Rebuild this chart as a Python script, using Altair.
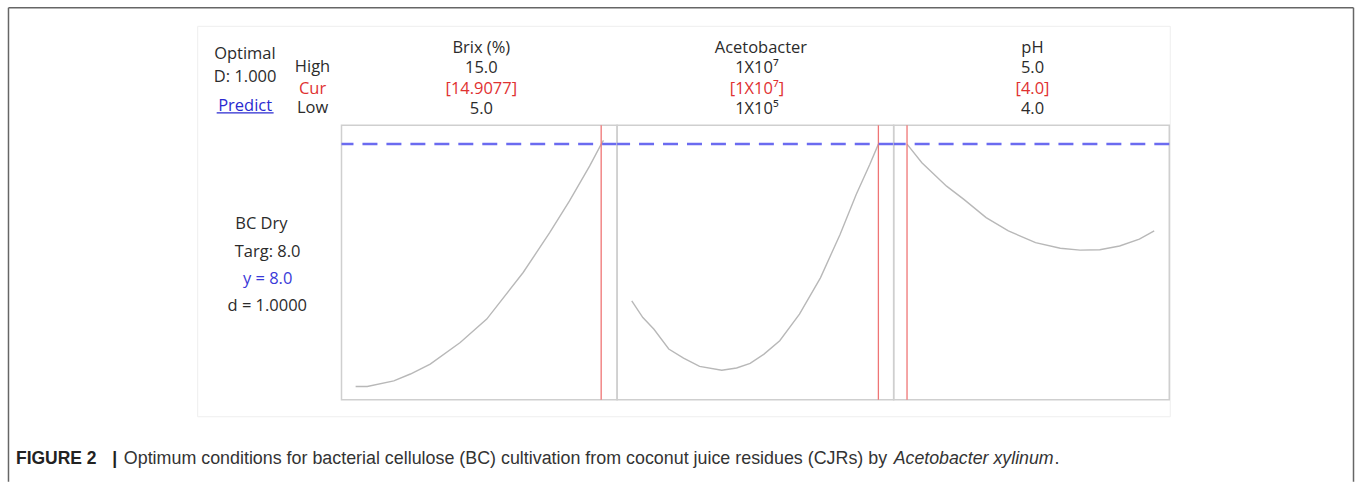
import altair as alt
import pandas as pd

# ---------------- data ----------------
brix_x = [5.0, 5.47, 6.54, 7.21, 8.01, 9.22, 10.29, 11.76, 12.83, 13.63, 14.44, 14.91, 15.0]
brix_y = [1.60, 1.60, 1.75, 1.93, 2.19, 2.76, 3.38, 4.61, 5.66, 6.50, 7.42, 8.00, 8.10]

aceto_x = [5.0, 5.09, 5.18, 5.30, 5.42, 5.55, 5.73, 5.85, 5.96, 6.07, 6.20, 6.36, 6.53, 6.69, 6.82, 6.93, 7.0]
aceto_y = [3.86, 3.42, 3.11, 2.59, 2.35, 2.13, 2.03, 2.09, 2.21, 2.45, 2.81, 3.51, 4.47, 5.62, 6.67, 7.46, 8.00]

ph_x = [4.0, 4.06, 4.16, 4.23, 4.32, 4.41, 4.52, 4.62, 4.70, 4.78, 4.86, 4.94, 5.0]
ph_y = [8.00, 7.51, 6.89, 6.54, 6.06, 5.71, 5.40, 5.25, 5.20, 5.21, 5.31, 5.49, 5.71]

factor_names = ["Brix (%)", "Acetobacter", "pH"]
high_labels = ["15.0", "1X10\u2077", "5.0"]
cur_labels = ["[14.9077]", "[1X10\u2077]", "[4.0]"]
low_labels = ["5.0", "1X10\u2075", "4.0"]
cur_values = [14.9077, 7.0, 4.0]
target_value = 8.0

left_top = ["Optimal", "D: 1.000", "Predict"]
row_names = ["High", "Cur", "Low"]
response_lines = ["BC Dry", "Targ: 8.0", "y = 8.0", "d = 1.0000"]
caption_bold = "FIGURE 2"
caption_text = "Optimum conditions for bacterial cellulose (BC) cultivation from coconut juice residues (CJRs) by"
caption_italic = "Acetobacter xylinum"

# ---------------- styling / layout ----------------
FONT = "Open Sans, DejaVu Sans"
CAP_FONT = "Liberation Sans"
BLACK = "#2b2b2b"
RED_TXT = "#e03131"
BLUE_TXT = "#3a3ad8"
LINK = "#2a2ad0"
CURVE = "#b8b8b8"
RED_LINE = "#ef7575"
BLUE_LINE = "#6b6bf0"
FS = 16.5

PANEL_W = [276, 277, 276]
PANEL_H = 275
X_DOMAINS = [[4.43, 15.55], [4.881, 7.124], [3.946, 5.061]]
Y_DOMAIN = [1.25, 8.5]
TITLE_CX = [140, 144, 139]
NUM_CX = [140, 140, 139]

one = alt.Data(values=[{}])


def label(text, x, y, color=BLACK, size=FS, align="center", font=FONT,
          weight="normal", style="normal", baseline="middle"):
    return alt.Chart(one).mark_text(
        text=text, align=align, baseline=baseline, font=font, fontSize=size,
        color=color, fontWeight=weight, fontStyle=style
    ).encode(x=alt.value(x), y=alt.value(y))


def panel(i, xs, ys, extra=()):
    xscale = alt.Scale(domain=X_DOMAINS[i], nice=False, zero=False)
    yscale = alt.Scale(domain=Y_DOMAIN, nice=False, zero=False)
    df = pd.DataFrame({"x": xs, "y": ys})
    curve = alt.Chart(df).mark_line(color=CURVE, strokeWidth=1.4).encode(
        x=alt.X("x:Q", scale=xscale, axis=None),
        y=alt.Y("y:Q", scale=yscale, axis=None),
    )
    cur = alt.Chart(pd.DataFrame({"x": [cur_values[i]]})).mark_rule(
        color=RED_LINE, strokeWidth=1.3
    ).encode(x=alt.X("x:Q", scale=xscale, axis=None))
    tgt = alt.Chart(pd.DataFrame({"y": [target_value]})).mark_rule(
        color=BLUE_LINE, strokeWidth=2.5, strokeDash=[15, 9]
    ).encode(y=alt.Y("y:Q", scale=yscale, axis=None))
    texts = [
        label(factor_names[i], TITLE_CX[i], -77),
        label(high_labels[i], NUM_CX[i], -57),
        label(cur_labels[i], NUM_CX[i], -36.5, color=RED_TXT),
        label(low_labels[i], NUM_CX[i], -16.5),
    ]
    return alt.layer(*extra, curve, cur, tgt, *texts).properties(
        width=PANEL_W[i], height=PANEL_H
    )


# decorations placed relative to the first panel (origin at page 341,124)
page = alt.Chart(one).mark_rect(opacity=0).encode(
    x=alt.value(-341), x2=alt.value(1016), y=alt.value(-124), y2=alt.value(358)
)
border = [
    alt.Chart(one).mark_rule(color="#666666", strokeWidth=1.5).encode(
        x=alt.value(-333.5), y=alt.value(-117.5), y2=alt.value(357)),
    alt.Chart(one).mark_rule(color="#666666", strokeWidth=1.5).encode(
        x=alt.value(-333.5), x2=alt.value(1013.5), y=alt.value(-117.5)),
    alt.Chart(one).mark_rule(color="#666666", strokeWidth=1.5).encode(
        x=alt.value(1013.5), y=alt.value(-117.5), y2=alt.value(357)),
]
window = alt.Chart(one).mark_rect(fillOpacity=0, stroke="#eeeeee", strokeWidth=1).encode(
    x=alt.value(-144), x2=alt.value(830), y=alt.value(-99), y2=alt.value(292)
)
left_labels = [
    label(left_top[0], -96.7, -71.3),
    label(left_top[1], -96.5, -48),
    label(left_top[2], -96.5, -19, color=LINK),
    alt.Chart(one).mark_rule(color=LINK, strokeWidth=1.2).encode(
        x=alt.value(-125), x2=alt.value(-68), y=alt.value(-12.3)),
    label(row_names[0], -29, -58),
    label(row_names[1], -29, -36.7, color=RED_TXT),
    label(row_names[2], -29, -17.3),
    label(response_lines[0], -80.2, 99.3),
    label(response_lines[1], -74, 127),
    label(response_lines[2], -74, 153.7, color=BLUE_TXT),
    label(response_lines[3], -74.3, 181),
]
caption = [
    label(caption_bold, -326, 339.3, color="#222222", size=17.5, align="left",
          font=CAP_FONT, weight="bold", baseline="alphabetic"),
    label("|", -229.5, 339.3, color="#222222", size=17.5, align="left",
          font=CAP_FONT, weight="bold", baseline="alphabetic"),
    label(caption_text, -218, 339.3, color="#333333", size=17.9, align="left",
          font=CAP_FONT, baseline="alphabetic"),
    label(caption_italic, 553, 339.3, color="#333333", size=17.8, align="left",
          font=CAP_FONT, style="italic", baseline="alphabetic"),
    label(".", 714, 339.3, color="#333333", size=17.8, align="left",
          font=CAP_FONT, baseline="alphabetic"),
]

p1 = panel(0, brix_x, brix_y, extra=[page, window, *border, *left_labels, *caption])
p2 = panel(1, aceto_x, aceto_y)
p3 = panel(2, ph_x, ph_y)

chart = alt.hconcat(p1, p2, p3, spacing=0, bounds="flush").properties(
    padding=0
).configure_view(stroke="#cfcfcf", strokeWidth=1.5)

chart.save("out.html", embed_options={"renderer": "svg", "actions": False})
